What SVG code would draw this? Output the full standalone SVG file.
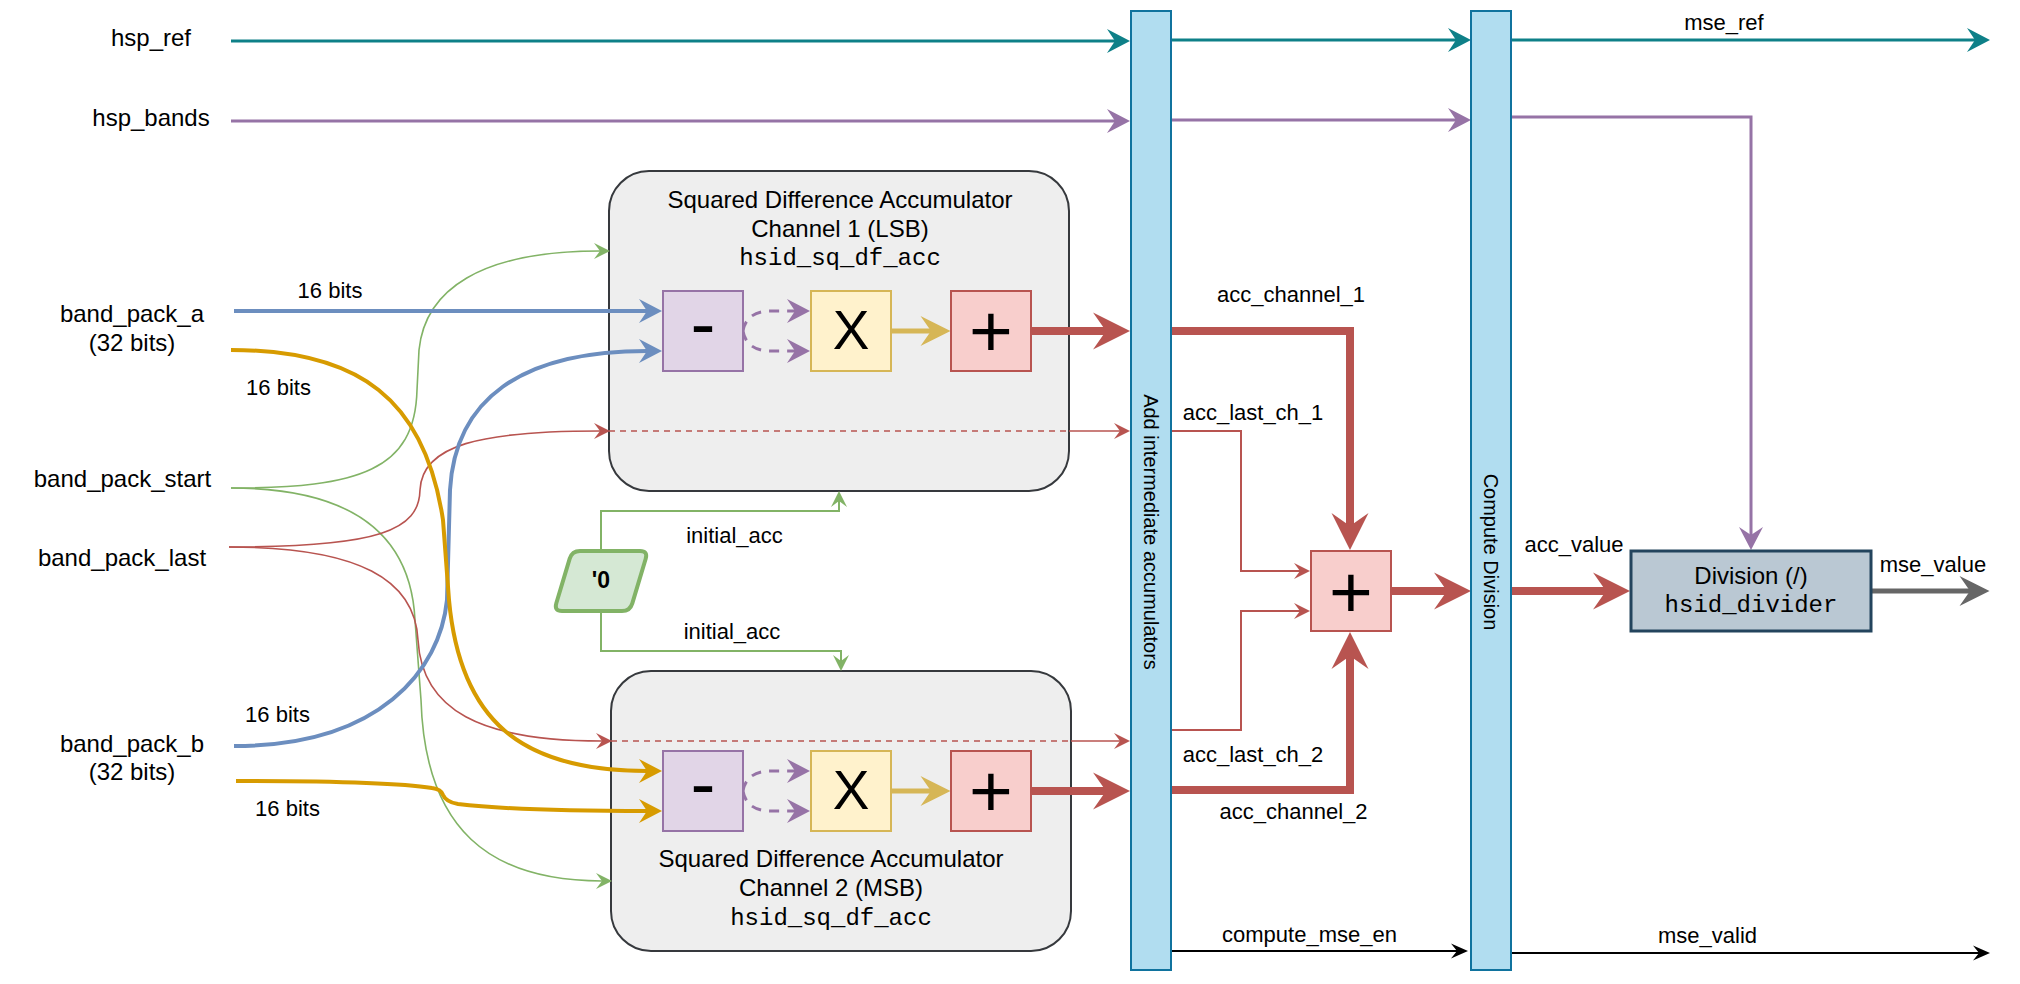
<svg xmlns="http://www.w3.org/2000/svg" width="2020" height="984" viewBox="0 0 2020 984">
<style>
text{font-family:"Liberation Sans",Arial,Helvetica,sans-serif;fill:#000}
.lbl{font-size:24px;text-anchor:middle}
.sm{font-size:22px;text-anchor:middle}
.mono{font-family:"Liberation Mono","Courier New",monospace;font-size:24px;text-anchor:middle}
.vt{font-size:20px;text-anchor:middle}
.big{text-anchor:middle}
.box{fill:#eeeeee;stroke:#36393d;stroke-width:2}
.bar{fill:#b1ddf0;stroke:#10739e;stroke-width:2}
.sub{fill:#e1d5e7;stroke:#9673a6;stroke-width:2}
.mul{fill:#fff2cc;stroke:#d6b656;stroke-width:2}
.add{fill:#f8cecc;stroke:#b85450;stroke-width:2}
.div{fill:#bac8d3;stroke:#23445d;stroke-width:3}
.zero{fill:#d5e8d4;stroke:#82b366;stroke-width:4;stroke-linejoin:round}
#connectors path{fill:none}
.teal{stroke:#0e8088;stroke-width:3}
.purp{stroke:#9673a6;stroke-width:3}
.purpd{stroke:#9673a6;stroke-width:3;stroke-dasharray:10 8}
.blue{stroke:#6c8ebf;stroke-width:4}
.orng{stroke:#d79b00;stroke-width:4}
.yel{stroke:#d6b656;stroke-width:5}
.redb{stroke:#b85450;stroke-width:8}
.redt{stroke:#b85450;stroke-width:1.6}
.redd{stroke:#b85450;stroke-width:1.6;stroke-dasharray:6 5}
.red2{stroke:#b85450;stroke-width:2}
.grn{stroke:#82b366;stroke-width:1.6}
.grn2{stroke:#82b366;stroke-width:2}
.gray{stroke:#666666;stroke-width:5}
.blk{stroke:#000;stroke-width:2}
</style>
<defs>
<marker id="aTeal" markerUnits="userSpaceOnUse" markerWidth="23" markerHeight="24" refX="8" refY="12" orient="auto" overflow="visible"><path d="M0,0 L23,12 L0,24 L8,12 Z" fill="#0e8088"/></marker>
<marker id="aPurp" markerUnits="userSpaceOnUse" markerWidth="23" markerHeight="24" refX="8" refY="12" orient="auto" overflow="visible"><path d="M0,0 L23,12 L0,24 L8,12 Z" fill="#9673a6"/></marker>
<marker id="aBlue" markerUnits="userSpaceOnUse" markerWidth="23" markerHeight="24" refX="8" refY="12" orient="auto" overflow="visible"><path d="M0,0 L23,12 L0,24 L8,12 Z" fill="#6c8ebf"/></marker>
<marker id="aOrng" markerUnits="userSpaceOnUse" markerWidth="23" markerHeight="24" refX="8" refY="12" orient="auto" overflow="visible"><path d="M0,0 L23,12 L0,24 L8,12 Z" fill="#d79b00"/></marker>
<marker id="aYel" markerUnits="userSpaceOnUse" markerWidth="30" markerHeight="30" refX="10.5" refY="15" orient="auto" overflow="visible"><path d="M0,0 L30,15 L0,30 L10.5,15 Z" fill="#d6b656"/></marker>
<marker id="aRedB" markerUnits="userSpaceOnUse" markerWidth="37" markerHeight="37" refX="13" refY="18.5" orient="auto" overflow="visible"><path d="M0,0 L37,18.5 L0,37 L13,18.5 Z" fill="#b85450"/></marker>
<marker id="aRedT" markerUnits="userSpaceOnUse" markerWidth="16" markerHeight="16" refX="6" refY="8" orient="auto" overflow="visible"><path d="M0,0 L16,8 L0,16 L6,8 Z" fill="#b85450"/></marker>
<marker id="aGrn" markerUnits="userSpaceOnUse" markerWidth="16" markerHeight="16" refX="6" refY="8" orient="auto" overflow="visible"><path d="M0,0 L16,8 L0,16 L6,8 Z" fill="#82b366"/></marker>
<marker id="aGray" markerUnits="userSpaceOnUse" markerWidth="30" markerHeight="30" refX="10.5" refY="15" orient="auto" overflow="visible"><path d="M0,0 L30,15 L0,30 L10.5,15 Z" fill="#666666"/></marker>
<marker id="aBlk" markerUnits="userSpaceOnUse" markerWidth="17" markerHeight="15" refX="6" refY="7.5" orient="auto" overflow="visible"><path d="M0,0 L17,7.5 L0,15 L6,7.5 Z" fill="#000"/></marker>
</defs>
<rect width="2020" height="984" fill="#ffffff"/>

<g id="acc1">
<rect class="box" x="609" y="171" width="460" height="320" rx="40"/>
<text class="lbl" x="840" y="208">Squared Difference Accumulator</text>
<text class="lbl" x="840" y="237">Channel 1 (LSB)</text>
<text class="mono" x="840" y="265">hsid_sq_df_acc</text>
</g>
<g id="acc2">
<rect class="box" x="611" y="671" width="460" height="280" rx="40"/>
<text class="lbl" x="831" y="867">Squared Difference Accumulator</text>
<text class="lbl" x="831" y="896">Channel 2 (MSB)</text>
<text class="mono" x="831" y="925">hsid_sq_df_acc</text>
</g>

<g id="connectors">
<path class="teal" d="M231,41 H1115" marker-end="url(#aTeal)"/>
<path class="teal" d="M1171,40 H1456" marker-end="url(#aTeal)"/>
<path class="teal" d="M1511,40 H1975" marker-end="url(#aTeal)"/>
<path class="purp" d="M231,121 H1115" marker-end="url(#aPurp)"/>
<path class="purp" d="M1171,120 H1456" marker-end="url(#aPurp)"/>
<path class="purp" d="M1508,117 H1751 V535" marker-end="url(#aPurp)"/>
<path class="grn" d="M231,488 C360,488 415,470 417,390 L419,350 C425,290 480,251 600,251" marker-end="url(#aGrn)"/>
<path class="grn" d="M231,488 C360,488 411,540 415,620 L421,700 C425,830 490,881 602,881" marker-end="url(#aGrn)"/>
<path class="redt" d="M229,547 C380,547 419,530 420,490 C422,445 480,431 600,431" marker-end="url(#aRedT)"/>
<path class="redt" d="M229,547 C360,547 415,580 418,640 C422,710 480,741 602,741" marker-end="url(#aRedT)"/>
<path class="blue" d="M234,311 H647" marker-end="url(#aBlue)"/>
<path class="blue" d="M234,746 C380,746 440,670 447,600 L450,490 C455,400 520,351 647,351" marker-end="url(#aBlue)"/>
<path class="orng" d="M231,350 C360,350 425,400 443,520 L449,600 C460,720 520,771 647,771" marker-end="url(#aOrng)"/>
<path class="orng" d="M236,781 C340,781 400,783 432,788 Q441,789 443,795 Q446,802 458,804 C500,809 560,811 647,811" marker-end="url(#aOrng)"/>
<path class="purpd" d="M743,331 C745,318 755,311 770,311 H795" marker-end="url(#aPurp)"/>
<path class="purpd" d="M743,331 C745,344 755,351 770,351 H795" marker-end="url(#aPurp)"/>
<path class="purpd" d="M743,791 C745,778 755,771 770,771 H795" marker-end="url(#aPurp)"/>
<path class="purpd" d="M743,791 C745,804 755,811 770,811 H795" marker-end="url(#aPurp)"/>
<path class="yel" d="M891,331 H931" marker-end="url(#aYel)"/>
<path class="yel" d="M891,791 H931" marker-end="url(#aYel)"/>
<path class="redb" d="M1031,331 H1106" marker-end="url(#aRedB)"/>
<path class="redb" d="M1031,791 H1106" marker-end="url(#aRedB)"/>
<path class="redd" d="M609,431 H1069"/>
<path class="redt" d="M1069,431 H1120" marker-end="url(#aRedT)"/>
<path class="redd" d="M611,741 H1071"/>
<path class="redt" d="M1071,741 H1120" marker-end="url(#aRedT)"/>
<path class="grn2" d="M601,550 V511 H839 V501" marker-end="url(#aGrn)"/>
<path class="grn2" d="M601,612 V651 H841 V661" marker-end="url(#aGrn)"/>
<path class="redb" d="M1171,331 H1350 V526" marker-end="url(#aRedB)"/>
<path class="redb" d="M1171,790 H1350 V656" marker-end="url(#aRedB)"/>
<path class="red2" d="M1171,431 H1241 V571 H1300" marker-end="url(#aRedT)"/>
<path class="red2" d="M1171,730 H1241 V611 H1300" marker-end="url(#aRedT)"/>
<path class="redb" d="M1391,591 H1447" marker-end="url(#aRedB)"/>
<path class="redb" d="M1511,591 H1606" marker-end="url(#aRedB)"/>
<path class="gray" d="M1871,591 H1970" marker-end="url(#aGray)"/>
<path class="blk" d="M1171,951 H1457" marker-end="url(#aBlk)"/>
<path class="blk" d="M1511,953 H1979" marker-end="url(#aBlk)"/>
</g>

<g id="sub1"><rect class="sub" x="663" y="291" width="80" height="80"/><text class="big" x="703" y="349" font-size="75">-</text></g>
<g id="mul1"><rect class="mul" x="811" y="291" width="80" height="80"/><text class="big" x="851" y="349" font-size="55">X</text></g>
<g id="add1"><rect class="add" x="951" y="291" width="80" height="80"/><text class="big" x="991" y="357" font-size="75">+</text></g>
<g id="sub2"><rect class="sub" x="663" y="751" width="80" height="80"/><text class="big" x="703" y="809" font-size="75">-</text></g>
<g id="mul2"><rect class="mul" x="811" y="751" width="80" height="80"/><text class="big" x="851" y="809" font-size="55">X</text></g>
<g id="add2"><rect class="add" x="951" y="751" width="80" height="80"/><text class="big" x="991" y="817" font-size="75">+</text></g>

<g id="zero">
<path class="zero" d="M580,551 L640,551 Q648,551 645.7,558.7 L632.3,603.3 Q630,611 622,611 L562,611 Q554,611 556.3,603.3 L569.7,558.7 Q572,551 580,551 Z"/>
<text x="601" y="588" font-size="23" font-weight="bold" text-anchor="middle">'0</text>
</g>

<g id="addbar">
<rect class="bar" x="1131" y="11" width="40" height="959"/>
<text class="vt" transform="translate(1151,532) rotate(90)" x="0" y="7">Add intermediate accumulators</text>
</g>
<g id="compbar">
<rect class="bar" x="1471" y="11" width="40" height="959"/>
<text class="vt" transform="translate(1491,552) rotate(90)" x="0" y="7">Compute Division</text>
</g>
<g id="sum">
<rect class="add" x="1311" y="551" width="80" height="80"/>
<text class="big" x="1351" y="618" font-size="75">+</text>
</g>
<g id="divider">
<rect class="div" x="1631" y="551" width="240" height="80"/>
<text class="lbl" x="1751" y="584">Division (/)</text>
<text class="mono" x="1751" y="612">hsid_divider</text>
</g>

<g id="labels">
<text class="lbl" x="151" y="46">hsp_ref</text>
<text class="lbl" x="151" y="126">hsp_bands</text>
<text class="lbl" x="132" y="322">band_pack_a</text>
<text class="lbl" x="132" y="351">(32 bits)</text>
<text class="lbl" x="122.5" y="487">band_pack_start</text>
<text class="lbl" x="122" y="566">band_pack_last</text>
<text class="lbl" x="132" y="752">band_pack_b</text>
<text class="lbl" x="132" y="780">(32 bits)</text>
<text class="sm" x="330" y="298">16 bits</text>
<text class="sm" x="278.5" y="395">16 bits</text>
<text class="sm" x="277.5" y="722">16 bits</text>
<text class="sm" x="287.5" y="816">16 bits</text>
<text class="sm" x="734.5" y="543">initial_acc</text>
<text class="sm" x="732" y="639">initial_acc</text>
<text class="sm" x="1291" y="302">acc_channel_1</text>
<text class="sm" x="1253" y="420">acc_last_ch_1</text>
<text class="sm" x="1253" y="762">acc_last_ch_2</text>
<text class="sm" x="1293.5" y="819">acc_channel_2</text>
<text class="sm" x="1574" y="552">acc_value</text>
<text class="sm" x="1933" y="572">mse_value</text>
<text class="sm" x="1724" y="30">mse_ref</text>
<text class="sm" x="1309.5" y="942">compute_mse_en</text>
<text class="sm" x="1707.5" y="943">mse_valid</text>
</g>
</svg>
